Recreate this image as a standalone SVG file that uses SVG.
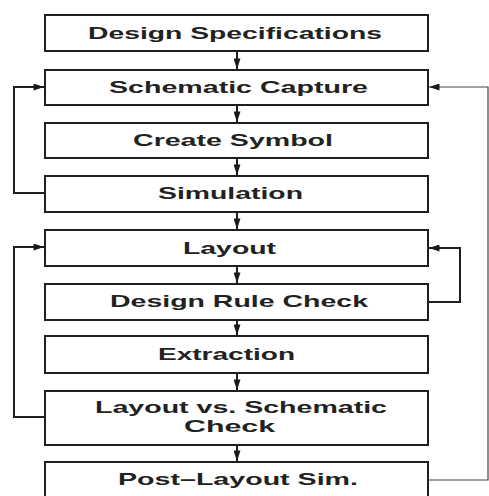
<svg xmlns="http://www.w3.org/2000/svg" width="489" height="496" viewBox="0 0 489 496">
<defs>
<marker id="ah" viewBox="0 0 12 8" refX="12" refY="4" markerWidth="12" markerHeight="7" markerUnits="userSpaceOnUse" orient="auto">
<path d="M0,0 L12,4 L0,8 Z" fill="#1a1a1a"/>
</marker>
<style>
.box{fill:#fff;stroke:#1f1f1f;stroke-width:2}
.lbl{font-family:"Liberation Sans",Arial,sans-serif;font-weight:bold;font-size:17px;fill:#222;text-anchor:middle}
.sm{font-size:16px}
.c{fill:none;stroke:#1f1f1f;stroke-width:2}
.thin{fill:none;stroke:#444;stroke-width:1.2}
</style>
</defs>
<rect width="489" height="496" fill="#fff"/>
<g id="connectors">
<line class="c" x1="237" y1="51" x2="237" y2="69" marker-end="url(#ah)"/>
<line class="c" x1="237" y1="105" x2="237" y2="122" marker-end="url(#ah)"/>
<line class="c" x1="237" y1="158" x2="237" y2="175" marker-end="url(#ah)"/>
<line class="c" x1="237" y1="212" x2="237" y2="229" marker-end="url(#ah)"/>
<line class="c" x1="237" y1="266" x2="237" y2="283" marker-end="url(#ah)"/>
<line class="c" x1="237" y1="320" x2="237" y2="335" marker-end="url(#ah)"/>
<line class="c" x1="237" y1="373" x2="237" y2="390" marker-end="url(#ah)"/>
<line class="c" x1="237" y1="445" x2="237" y2="461" marker-end="url(#ah)"/>
<path class="c" d="M45,193 H14 V87 H44" marker-end="url(#ah)"/>
<path class="c" d="M45,417 H14 V247 H44" marker-end="url(#ah)"/>
<path class="c" d="M428,302 H460 V248 H429" marker-end="url(#ah)"/>
<path class="thin" d="M428,480 H488 V87 H429" marker-end="url(#ah)"/>
</g>
<g id="n1"><rect class="box" x="45" y="15" width="383" height="36"/><text class="lbl" x="235" y="38.5" textLength="294" lengthAdjust="spacingAndGlyphs">Design Specifications</text></g>
<g id="n2"><rect class="box" x="45" y="70" width="383" height="35"/><text class="lbl" x="238.5" y="93" textLength="259" lengthAdjust="spacingAndGlyphs">Schematic Capture</text></g>
<g id="n3"><rect class="box" x="45" y="123" width="383" height="35"/><text class="lbl" x="233" y="145.5" textLength="200" lengthAdjust="spacingAndGlyphs">Create Symbol</text></g>
<g id="n4"><rect class="box" x="45" y="176" width="383" height="36"/><text class="lbl" x="230.5" y="199" textLength="145" lengthAdjust="spacingAndGlyphs">Simulation</text></g>
<g id="n5"><rect class="box" x="45" y="230" width="383" height="36"/><text class="lbl" x="229.5" y="253.5" textLength="93" lengthAdjust="spacingAndGlyphs">Layout</text></g>
<g id="n6"><rect class="box" x="45" y="284" width="383" height="36"/><text class="lbl" x="239" y="306.5" textLength="258" lengthAdjust="spacingAndGlyphs">Design Rule Check</text></g>
<g id="n7"><rect class="box" x="45" y="336" width="383" height="37"/><text class="lbl" x="226.5" y="359.5" textLength="137" lengthAdjust="spacingAndGlyphs">Extraction</text></g>
<g id="n8"><rect class="box" x="45" y="391" width="383" height="54"/><text class="lbl sm" x="241" y="413" textLength="292" lengthAdjust="spacingAndGlyphs">Layout vs. Schematic</text><text class="lbl sm" x="229.5" y="432" textLength="91" lengthAdjust="spacingAndGlyphs">Check</text></g>
<g id="n9"><rect class="box" x="45" y="462" width="383" height="40"/><text class="lbl" x="238" y="485" textLength="240" lengthAdjust="spacingAndGlyphs">Post–Layout Sim.</text></g>
</svg>
